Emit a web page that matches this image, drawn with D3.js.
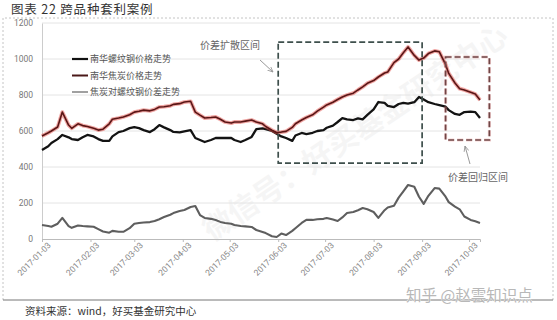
<!DOCTYPE html>
<html>
<head>
<meta charset="utf-8">
<script src="https://cdn.jsdelivr.net/npm/d3@7"></script>
<style>
  body { margin: 0; background: #fff; }
  svg { display: block; font-family: "Noto Sans CJK SC", "Noto Sans", sans-serif; }
</style>
</head>
<body>
<div id="chart"></div>
<script>
const DATES = [
  "2017-01-03","2017-01-07","2017-01-09","2017-01-13","2017-01-16","2017-01-20","2017-01-22","2017-01-26","2017-01-29","2017-02-01",
  "2017-02-05","2017-02-08","2017-02-11","2017-02-15","2017-02-17","2017-02-21","2017-02-24","2017-02-28","2017-03-03","2017-03-06",
  "2017-03-09","2017-03-13","2017-03-16","2017-03-19","2017-03-22","2017-03-26","2017-03-28","2017-04-01","2017-04-04","2017-04-08",
  "2017-04-11","2017-04-14","2017-04-17","2017-04-21","2017-04-24","2017-04-27","2017-04-30","2017-05-04","2017-05-06","2017-05-10",
  "2017-05-13","2017-05-17","2017-05-20","2017-05-24","2017-05-26","2017-05-30","2017-06-02","2017-06-05","2017-06-08","2017-06-12",
  "2017-06-14","2017-06-18","2017-06-21","2017-06-25","2017-06-28","2017-07-02","2017-07-04","2017-07-08","2017-07-11","2017-07-14",
  "2017-07-17","2017-07-21","2017-07-24","2017-07-27","2017-07-30","2017-08-03","2017-08-06","2017-08-10","2017-08-12","2017-08-16",
  "2017-08-19","2017-08-22","2017-08-25","2017-08-29","2017-09-01","2017-09-04","2017-09-07","2017-09-11","2017-09-14","2017-09-18",
  "2017-09-20","2017-09-24","2017-09-27","2017-09-30","2017-10-04","2017-10-07","2017-10-10"
];

// 南华螺纹钢
const REBAR = [
  494,515,533,555,578,565,555,550,565,578,
  570,555,545,545,570,594,600,616,622,616,
  605,594,610,633,620,605,595,592,598,605,
  561,550,539,550,561,561,561,561,550,539,
  550,567,610,615,610,600,585,570,561,545,
  575,589,583,590,600,605,618,630,650,672,
  665,661,670,665,690,720,761,756,740,733,
  750,756,752,760,789,775,760,750,744,735,
  716,695,690,705,708,705,672
];

// 南华焦炭
const COKE = [
  572,590,600,622,705,633,615,640,630,625,
  615,605,610,640,665,672,678,690,705,710,
  716,712,720,733,735,740,748,752,761,765,
  705,688,672,675,678,665,650,644,650,650,
  655,661,650,640,625,605,592,594,598,620,
  640,661,675,690,710,733,745,760,775,789,
  800,810,828,845,865,880,900,922,928,980,
  1000,1035,1067,1020,994,1005,1030,1045,1040,970,
  920,867,835,828,815,805,772
];

// 焦炭对螺纹钢价差
const SPREAD = [
  78,72,68,85,117,72,62,75,72,70,
  68,55,42,35,45,40,40,60,85,89,
  92,94,100,110,122,135,144,155,161,178,
  183,133,117,112,106,95,89,85,78,72,
  70,67,50,39,33,15,11,30,22,45,
  60,89,106,106,110,112,117,108,100,120,
  144,150,160,172,165,150,117,160,175,185,
  230,265,300,290,235,195,240,283,280,235,
  205,180,165,125,106,98,89
];

const SERIES_NAMES = ["南华螺纹钢价格走势", "南华焦炭价格走势", "焦炭对螺纹钢价差走势"];
const Y_TICKS = [0, 200, 400, 600, 800, 1000, 1200];
const X_TICKS = ["2017-01-03","2017-02-03","2017-03-03","2017-04-03","2017-05-03",
                 "2017-06-03","2017-07-03","2017-08-03","2017-09-03","2017-10-03"];

// annotation boxes, in data units: [startDate, endDate, low, high]
const SPREAD_WIDEN_BOX = ["2017-06-03", "2017-09-03", 422, 1094];
const SPREAD_REVERT_BOX = ["2017-09-18", "2017-10-16", 550, 1011];

const parse = d3.timeParse("%Y-%m-%d");

function draw() {
  const width = 557, height = 320;
  const svg = d3.select("#chart").append("svg")
    .attr("width", width).attr("height", height);

  const x = d3.scaleTime()
    .domain([parse("2017-01-03"), parse("2017-10-10")])
    .range([42, 480]);
  const y = d3.scaleLinear().domain([0, 1200]).range([239, 23]);

  // faint background watermark
  svg.append("text")
    .attr("transform", "translate(212,242) rotate(-34)")
    .attr("font-size", 30).attr("font-weight", 700)
    .attr("fill", "#000").attr("opacity", 0.035)
    .text("微信号：好买基金研究中心");

  // frame: dashed sides, solid bottom
  svg.append("path")
    .attr("d", "M3,300 L3,18 L553,18 L553,300")
    .attr("fill", "none").attr("stroke", "#c4c4c4")
    .attr("stroke-dasharray", "2,2");
  svg.append("line")
    .attr("x1", 3).attr("x2", 553).attr("y1", 300).attr("y2", 300)
    .attr("stroke", "#777").attr("stroke-width", 1);

  // grid
  svg.append("g")
    .selectAll("line")
    .data(Y_TICKS.filter(d => d > 0))
    .join("line")
    .attr("x1", x.range()[0]).attr("x2", x.range()[1])
    .attr("y1", d => y(d)).attr("y2", d => y(d))
    .attr("stroke", "#e4e4e4");

  // y axis
  const yAxis = svg.append("g")
    .attr("transform", `translate(${x.range()[0]},0)`)
    .call(d3.axisLeft(y).tickValues(Y_TICKS).tickSize(0).tickPadding(9)
      .tickFormat(d3.format("d")));
  yAxis.select(".domain").attr("stroke", "#ccc");
  yAxis.selectAll("text").attr("fill", "#777").attr("font-size", 8.5)
    .attr("font-family", "Roboto, 'Noto Sans', sans-serif");

  // x axis
  const xAxis = svg.append("g")
    .attr("transform", `translate(0,${y(0)})`)
    .call(d3.axisBottom(x).tickValues(X_TICKS.map(parse)).tickSize(3)
      .tickFormat(d3.timeFormat("%Y-%m-%d")));
  xAxis.select(".domain").attr("stroke", "#bbb");
  xAxis.selectAll(".tick line").attr("stroke", "#bbb");
  xAxis.selectAll("text")
    .attr("fill", "#888").attr("font-size", 8.5)
    .attr("font-family", "Roboto, 'Noto Sans', sans-serif")
    .attr("text-anchor", "end")
    .attr("transform", "translate(4,2) rotate(-45)")
    .attr("dy", "0.35em").attr("y", 4);

  const dates = DATES.map(parse);
  const line = vals => d3.line()
    .x((d, i) => x(dates[i]))
    .y(d => y(d))(vals);

  // spread
  svg.append("path").attr("d", line(SPREAD))
    .attr("fill", "none").attr("stroke", "#5e5e5e")
    .attr("stroke-width", 2.1).attr("stroke-linejoin", "round");

  // rebar
  svg.append("path").attr("d", line(REBAR))
    .attr("fill", "none").attr("stroke", "#131313")
    .attr("stroke-width", 2.3).attr("stroke-linejoin", "round");

  // coke: red halo + dark core
  svg.append("path").attr("d", line(COKE))
    .attr("fill", "none").attr("stroke", "#e4504a")
    .attr("stroke-width", 3.8).attr("stroke-opacity", 0.5)
    .attr("stroke-linejoin", "round");
  svg.append("path").attr("d", line(COKE))
    .attr("fill", "none").attr("stroke", "#5a1616")
    .attr("stroke-width", 1.6).attr("stroke-linejoin", "round");

  // dashed annotation boxes
  const box = (b, color, halo) => {
    const x0 = x(parse(b[0])), x1 = x(parse(b[1]));
    const y0 = y(b[3]), y1 = y(b[2]);
    if (halo) {
      svg.append("rect")
        .attr("x", x0).attr("y", y0).attr("width", x1 - x0).attr("height", y1 - y0)
        .attr("fill", "none").attr("stroke", halo).attr("stroke-width", 3.2)
        .attr("stroke-opacity", 0.3).attr("stroke-dasharray", "6,3");
    }
    svg.append("rect")
      .attr("x", x0).attr("y", y0).attr("width", x1 - x0).attr("height", y1 - y0)
      .attr("fill", "none").attr("stroke", color).attr("stroke-width", 1.7)
      .attr("stroke-dasharray", "6,3");
  };
  box(SPREAD_WIDEN_BOX, "#3e4f4c");
  box(SPREAD_REVERT_BOX, "#6e4646", "#e06a6a");

  // arrows + labels
  const defs = svg.append("defs");
  defs.append("marker")
    .attr("id", "arr").attr("viewBox", "0 0 10 10")
    .attr("refX", 9).attr("refY", 5)
    .attr("markerWidth", 6).attr("markerHeight", 6)
    .attr("orient", "auto")
    .append("path").attr("d", "M0,1 L9,5 L0,9").attr("fill", "none")
    .attr("stroke", "#999").attr("stroke-width", 1.4);

  svg.append("text").attr("x", 230).attr("y", 49)
    .attr("text-anchor", "middle").attr("font-size", 10).attr("fill", "#666")
    .text("价差扩散区间");
  svg.append("line")
    .attr("x1", 260).attr("y1", 60).attr("x2", 273).attr("y2", 72)
    .attr("stroke", "#999").attr("marker-end", "url(#arr)");

  svg.append("text").attr("x", 478).attr("y", 181)
    .attr("text-anchor", "middle").attr("font-size", 10).attr("fill", "#666")
    .text("价差回归区间");
  svg.append("line")
    .attr("x1", 470).attr("y1", 164).attr("x2", 465).attr("y2", 146)
    .attr("stroke", "#999").attr("marker-end", "url(#arr)");

  // legend
  const legColors = ["#111", "#4a1818", "#777"];
  const legWidths = [2.2, 2, 1.4];
  const leg = svg.append("g")
    .selectAll("g")
    .data(SERIES_NAMES)
    .join("g")
    .attr("transform", (d, i) => `translate(72,${59 + i * 16.5})`);
  leg.append("line")
    .attr("x1", 0).attr("x2", 16)
    .attr("stroke", (d, i) => legColors[i])
    .attr("stroke-width", (d, i) => legWidths[i]);
  leg.append("text")
    .attr("x", 18).attr("dy", "0.35em")
    .attr("font-size", 9).attr("fill", "#555")
    .text(d => d);

  // title
  svg.append("text").attr("x", 11).attr("y", 14)
    .attr("font-size", 12.5).attr("fill", "#333")
    .attr("letter-spacing", 0.8)
    .text("图表 22 跨品种套利案例");

  // source
  svg.append("text").attr("x", 25).attr("y", 315)
    .attr("font-size", 10.5).attr("fill", "#333")
    .text("资料来源：wind，好买基金研究中心");

  // zhihu watermark
  svg.append("text").attr("x", 406).attr("y", 301)
    .attr("font-size", 15.5).attr("fill", "#b8b8b8")
    .attr("stroke", "#fff").attr("stroke-width", 0.6)
    .attr("paint-order", "stroke")
    .text("知乎 @赵雲知识点");
}

draw();
</script>
</body>
</html>
